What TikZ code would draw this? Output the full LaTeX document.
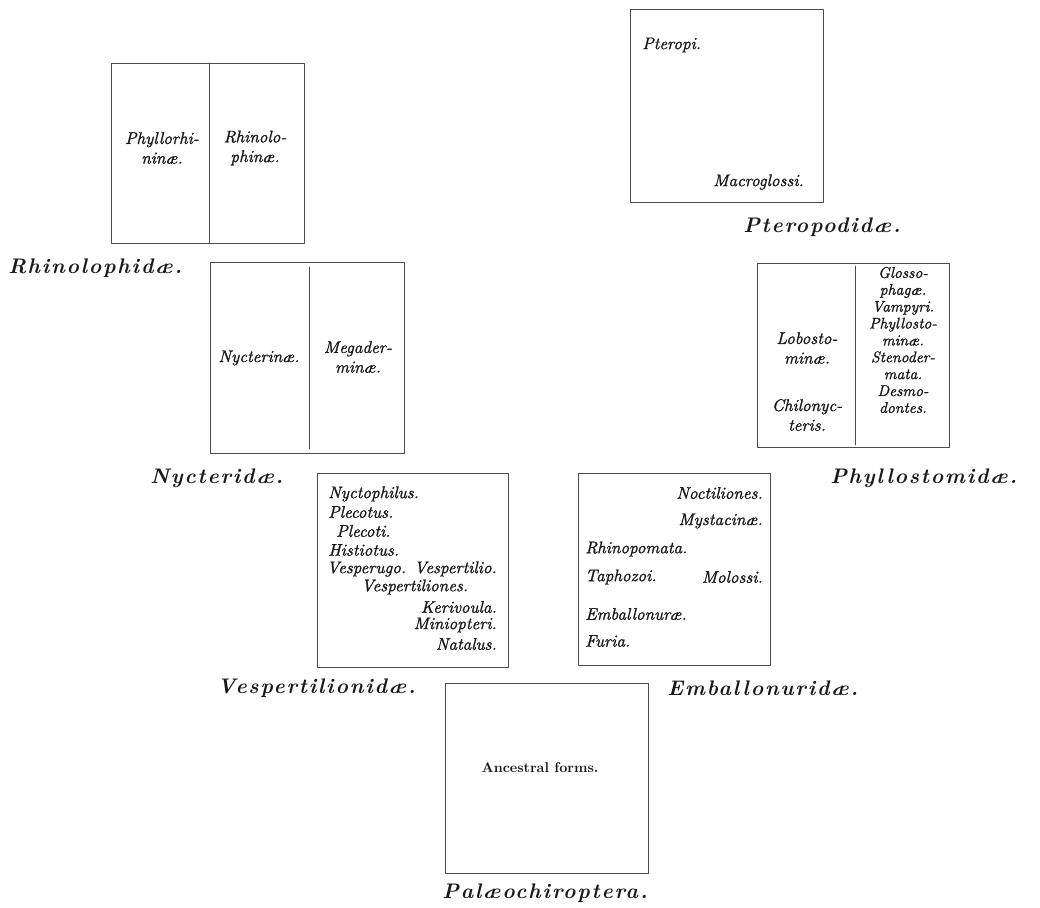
\documentclass[tikz,border=0pt]{standalone}
\usepackage{fontspec}
\usepackage{tikz}
\usetikzlibrary{calc}
\newfontfamily\famfont{lmroman10-bolditalic.otf}[LetterSpace=8.5]
\newfontfamily\genfont{lmroman10-italic.otf}[FakeBold=1.2]
\definecolor{sqsqsq}{rgb}{0.3,0.3,0.3}
\definecolor{ttqqqq}{rgb}{0.1,0.1,0.1}
\tikzset{
  boxline/.style={line width=0.6pt,color=sqsqsq},
  subname/.style={font=\genfont\fontsize{12}{14}\selectfont,color=ttqqqq,align=center,inner sep=0pt},
  genus/.style={font=\genfont\fontsize{12}{14}\selectfont,color=ttqqqq,inner sep=0pt},
  famname/.style={font=\famfont\fontsize{15}{17}\selectfont,color=ttqqqq,anchor=west,inner sep=0pt}
}

\begin{document}
\begin{tikzpicture}[line cap=round,line join=round,x=0.025cm,y=-0.025cm]
    \useasboundingbox (0,0) rectangle (1040,908);
    % Rhinolophidae
    \draw [boxline] (111,63) rectangle (304,243);
    \draw [boxline] (209,63) -- (209,243);
    \node[subname] (phyllorhininae) at (162,148) {Phyllorhi-\\nin\ae.};
    \node[subname] (rhinolophinae) at (255,148) {Rhinolo-\\phin\ae.};
    \node[famname] (rhinolophidae) at (8,268) {Rhinolophid\ae.};
    % Pteropodidae
    \draw [boxline] (630,9) rectangle (823,202);
    \node[genus,anchor=west] (pteropi) at (642,45) {Pteropi.};
    \node[genus,anchor=east] (macroglossi) at (804,182) {Macroglossi.};
    \node[famname] (pteropodidae) at (743,227) {Pteropodid\ae.};
    % Nycteridae
    \draw [boxline] (210,262) rectangle (404,453);
    \draw [boxline] (309,267) -- (309,449);
    \node[subname] (nycterinae) at (259,358) {Nycterin\ae.};
    \node[subname] (megaderminae) at (358,357) {Megader-\\min\ae.};
    \node[famname] (nycteridae) at (150,478) {Nycterid\ae.};
    % Phyllostomidae
    \draw [boxline] (757,263) rectangle (949,447);
    \draw [boxline] (855,266) -- (855,445);
    \node[subname] (lobostominae) at (807,348) {Lobosto-\\min\ae.};
    \node[subname] (chilonycteris) at (807,415) {Chilonyc-\\teris.};
    \node[subname,font=\genfont\fontsize{11}{12}\selectfont] (phyllostominae) at (903,340)
      {Glosso-\\phag\ae.\\Vampyri.\\Phyllosto-\\min\ae.\\Stenoder-\\mata.\\Desmo-\\dontes.};
    \node[famname] (phyllostomidae) at (830,478) {Phyllostomid\ae.};
    % Vespertilionidae
    \draw [boxline] (317,473) rectangle (508,667);
    \node[genus,anchor=west] (nyctophilus) at (328,494) {Nyctophilus.};
    \node[genus,anchor=west] (plecotus) at (328,512) {Plecotus.};
    \node[genus,anchor=west] (plecoti) at (336,531) {Plecoti.};
    \node[genus,anchor=west] (histiotus) at (328,550) {Histiotus.};
    \node[genus,anchor=east] (vespertilio) at (497,569) {Vesperugo. Vespertilio.};
    \node[genus,anchor=west] (vespertiliones) at (361,587) {Vespertiliones.};
    \node[genus,anchor=east] (kerivoula) at (497,607) {Kerivoula.};
    \node[genus,anchor=east] (miniopteri) at (497,625) {Miniopteri.};
    \node[genus,anchor=east] (natalus) at (497,644) {Natalus.};
    \node[famname] (vespertilionidae) at (217,688) {Vespertilionid\ae.};
    % Emballonuridae
    \draw [boxline] (578,473) rectangle (770,665);
    \node[genus,anchor=east] (noctiliones) at (763,493) {Noctiliones.};
    \node[genus,anchor=east] (mystacinae) at (763,521) {Mystacin\ae.};
    \node[genus,anchor=west] (rhinopomata) at (585,549) {Rhinopomata.};
    \node[genus,anchor=west] (taphozoi) at (585,577) {Taphozoi.};
    \node[genus,anchor=east] (molossi) at (763,577) {Molossi.};
    \node[genus,anchor=west] (emballonurae) at (585,614) {Emballonur\ae.};
    \node[genus,anchor=west] (furia) at (585,641) {Furia.};
    \node[famname] (emballonuridae) at (667,688) {Emballonurid\ae.};
    % Palaeochiroptera
    \draw [boxline] (445,683) rectangle (648,873);
    \node[font=\fontsize{10}{12}\selectfont\bfseries,color=ttqqqq] (ancestral) at (540,768) {Ancestral forms.};
    \node[famname,anchor=center] (palaeochiroptera) at (545,893) {Pal\ae ochiroptera.};
\end{tikzpicture}
\end{document}
